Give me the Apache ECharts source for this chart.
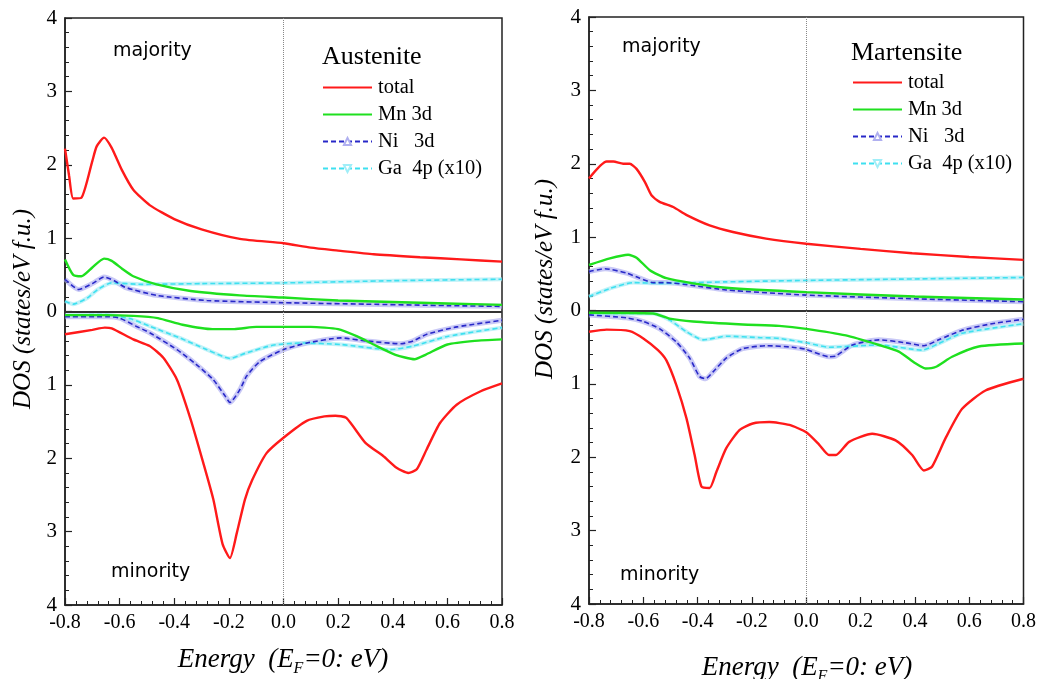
<!DOCTYPE html>
<html>
<head>
<meta charset="utf-8">
<script src="https://cdn.jsdelivr.net/npm/echarts@6/dist/echarts.min.js"></script>
<style>
html,body{margin:0;padding:0;background:#fff;}
#chart{width:1039px;height:679px;}
</style>
</head>
<body>
<div id="chart"></div>
<script>
// ---------- DATA ----------
var panelTitles = ['Austenite', 'Martensite'];
var seriesNames = ['total', 'Mn 3d', 'Ni   3d', 'Ga  4p (x10)'];
var xTicks = [-0.8, -0.6, -0.4, -0.2, 0.0, 0.2, 0.4, 0.6, 0.8];
var yTicks = [-4, -3, -2, -1, 0, 1, 2, 3, 4];

// Austenite, majority (positive) and minority (negative) spin
var austTotalUp = [[-0.80,2.22],[-0.785,1.85],[-0.77,1.54],[-0.74,1.55],[-0.70,2.05],[-0.684,2.25],[-0.657,2.37],[-0.629,2.23],[-0.592,1.93],[-0.55,1.66],[-0.49,1.45],[-0.40,1.26],[-0.30,1.12],[-0.16,0.99],[0.0,0.93],[0.10,0.87],[0.20,0.83],[0.33,0.78],[0.50,0.74],[0.65,0.71],[0.80,0.68]];
var austMnUp = [[-0.80,0.71],[-0.77,0.50],[-0.74,0.48],[-0.70,0.60],[-0.657,0.72],[-0.629,0.69],[-0.59,0.58],[-0.55,0.48],[-0.465,0.37],[-0.34,0.28],[-0.16,0.22],[0.0,0.19],[0.2,0.15],[0.4,0.13],[0.6,0.11],[0.8,0.09]];
var austNiUp = [[-0.80,0.44],[-0.75,0.30],[-0.70,0.38],[-0.657,0.47],[-0.62,0.42],[-0.58,0.33],[-0.465,0.22],[-0.28,0.15],[0.0,0.12],[0.3,0.10],[0.6,0.08],[0.8,0.07]];
var austGaUp = [[-0.80,0.14],[-0.77,0.10],[-0.72,0.18],[-0.68,0.30],[-0.63,0.39],[-0.52,0.37],[-0.3,0.38],[0.0,0.39],[0.4,0.42],[0.8,0.44]];
var austTotalDn = [[-0.80,-0.31],[-0.70,-0.25],[-0.654,-0.22],[-0.629,-0.23],[-0.55,-0.38],[-0.49,-0.47],[-0.44,-0.63],[-0.39,-0.93],[-0.34,-1.47],[-0.294,-2.06],[-0.257,-2.56],[-0.223,-3.17],[-0.196,-3.36],[-0.171,-3.02],[-0.141,-2.56],[-0.115,-2.30],[-0.062,-1.93],[0.0,-1.72],[0.085,-1.49],[0.15,-1.43],[0.19,-1.42],[0.23,-1.45],[0.30,-1.79],[0.365,-1.97],[0.414,-2.13],[0.457,-2.20],[0.488,-2.15],[0.524,-1.88],[0.573,-1.52],[0.634,-1.27],[0.72,-1.09],[0.80,-0.98]];
var austMnDn = [[-0.80,-0.05],[-0.65,-0.05],[-0.55,-0.06],[-0.46,-0.09],[-0.37,-0.18],[-0.26,-0.24],[-0.18,-0.24],[-0.10,-0.21],[0.0,-0.21],[0.10,-0.21],[0.20,-0.24],[0.27,-0.34],[0.33,-0.45],[0.41,-0.59],[0.48,-0.65],[0.52,-0.59],[0.60,-0.45],[0.70,-0.40],[0.80,-0.38]];
var austNiDn = [[-0.80,-0.07],[-0.65,-0.07],[-0.60,-0.09],[-0.54,-0.20],[-0.49,-0.29],[-0.39,-0.52],[-0.32,-0.72],[-0.257,-0.93],[-0.214,-1.15],[-0.196,-1.24],[-0.159,-1.06],[-0.135,-0.88],[-0.086,-0.68],[0.0,-0.52],[0.085,-0.43],[0.21,-0.36],[0.30,-0.40],[0.43,-0.44],[0.475,-0.40],[0.525,-0.31],[0.635,-0.21],[0.80,-0.12]];
var austGaDn = [[-0.80,-0.05],[-0.65,-0.04],[-0.56,-0.10],[-0.49,-0.20],[-0.38,-0.36],[-0.28,-0.52],[-0.196,-0.64],[-0.14,-0.57],[-0.04,-0.46],[0.06,-0.43],[0.21,-0.45],[0.39,-0.52],[0.475,-0.47],[0.60,-0.34],[0.80,-0.22]];

// Martensite
var martTotalUp = [[-0.80,1.80],[-0.735,2.03],[-0.71,2.03],[-0.674,2.00],[-0.65,2.00],[-0.625,1.93],[-0.594,1.75],[-0.57,1.57],[-0.54,1.48],[-0.49,1.41],[-0.44,1.30],[-0.356,1.16],[-0.27,1.07],[-0.148,0.98],[0.0,0.91],[0.2,0.84],[0.39,0.78],[0.6,0.73],[0.8,0.69]];
var martMnUp = [[-0.80,0.62],[-0.723,0.71],[-0.656,0.76],[-0.625,0.72],[-0.576,0.55],[-0.515,0.44],[-0.417,0.37],[-0.295,0.31],[0.0,0.25],[0.4,0.19],[0.8,0.15]];
var martNiUp = [[-0.80,0.53],[-0.741,0.57],[-0.662,0.51],[-0.613,0.44],[-0.564,0.38],[-0.515,0.38],[-0.417,0.34],[-0.295,0.28],[0.0,0.21],[0.4,0.16],[0.8,0.12]];
var martGaUp = [[-0.80,0.19],[-0.723,0.30],[-0.637,0.38],[-0.54,0.37],[-0.3,0.39],[0.0,0.41],[0.4,0.43],[0.8,0.45]];
var martTotalDn = [[-0.80,-0.29],[-0.735,-0.26],[-0.65,-0.28],[-0.60,-0.38],[-0.546,-0.54],[-0.515,-0.68],[-0.478,-1.02],[-0.441,-1.47],[-0.411,-1.97],[-0.386,-2.40],[-0.356,-2.42],[-0.331,-2.20],[-0.295,-1.88],[-0.246,-1.63],[-0.197,-1.54],[-0.136,-1.52],[-0.062,-1.56],[0.0,-1.66],[0.048,-1.83],[0.084,-1.97],[0.109,-1.97],[0.158,-1.79],[0.243,-1.68],[0.329,-1.77],[0.39,-1.97],[0.433,-2.18],[0.463,-2.13],[0.513,-1.74],[0.574,-1.34],[0.66,-1.09],[0.80,-0.93]];
var martMnDn = [[-0.80,-0.03],[-0.564,-0.04],[-0.503,-0.11],[-0.417,-0.15],[-0.234,-0.19],[-0.10,-0.21],[0.0,-0.25],[0.146,-0.34],[0.268,-0.47],[0.341,-0.56],[0.402,-0.72],[0.439,-0.79],[0.476,-0.77],[0.537,-0.63],[0.635,-0.49],[0.80,-0.45]];
var martNiDn = [[-0.80,-0.06],[-0.662,-0.10],[-0.60,-0.15],[-0.539,-0.25],[-0.478,-0.43],[-0.429,-0.65],[-0.393,-0.90],[-0.37,-0.93],[-0.344,-0.84],[-0.295,-0.65],[-0.234,-0.52],[-0.148,-0.48],[-0.05,-0.50],[0.0,-0.53],[0.084,-0.63],[0.109,-0.62],[0.17,-0.47],[0.268,-0.40],[0.366,-0.44],[0.433,-0.48],[0.488,-0.40],[0.574,-0.27],[0.684,-0.18],[0.80,-0.12]];
var martGaDn = [[-0.80,-0.04],[-0.564,-0.04],[-0.503,-0.13],[-0.441,-0.29],[-0.38,-0.40],[-0.356,-0.39],[-0.295,-0.35],[-0.172,-0.37],[-0.10,-0.38],[0.0,-0.44],[0.084,-0.50],[0.268,-0.47],[0.427,-0.54],[0.488,-0.45],[0.574,-0.31],[0.80,-0.18]];

// ---------- STYLE / BUILD ----------
var SERIF = "'Liberation Serif','Times New Roman',serif";
var SANS = "'DejaVu Sans',Verdana,sans-serif";
var C_TOTAL = '#ff1a1a', C_MN = '#1fe01f', C_NI = '#2828c8', C_GA = '#3ee0f0';
var HALO_NI = 'rgba(165,165,240,0.6)', HALO_GA = 'rgba(160,235,245,0.65)';

var panels = [
  {total:[austTotalUp,austTotalDn], mn:[austMnUp,austMnDn], ni:[austNiUp,austNiDn], ga:[austGaUp,austGaDn]},
  {total:[martTotalUp,martTotalDn], mn:[martMnUp,martMnDn], ni:[martNiUp,martNiDn], ga:[martGaUp,martGaDn]}
];

var grids = [
  {left:65, top:18, width:437, height:587, show:true, borderColor:'#222', borderWidth:1.5, backgroundColor:'transparent'},
  {left:589, top:17, width:436, height:587, show:true, borderColor:'#222', borderWidth:1.5, backgroundColor:'transparent'}
];

function xAxisCfg(i){
  return {
    type:'value', gridIndex:i, min:xTicks[0], max:xTicks[xTicks.length-1], interval:0.2,
    axisLine:{show:true, onZero:false, lineStyle:{color:'#222', width:1.5}},
    axisTick:{show:true, inside:true, length:7, lineStyle:{color:'#222', width:1.2}},
    minorTick:{show:true, splitNumber:5, length:4, lineStyle:{color:'#222', width:1}},
    splitLine:{show:false},
    axisLabel:{color:'#000', fontFamily:SERIF, fontSize:20, margin:8,
      formatter:function(v){return v.toFixed(1);}}
  };
}
function yAxisCfg(i){
  return {
    type:'value', gridIndex:i, min:yTicks[0], max:yTicks[yTicks.length-1], interval:1,
    axisLine:{show:true, onZero:false, lineStyle:{color:'#222', width:1.5}},
    axisTick:{show:true, inside:true, length:7, lineStyle:{color:'#222', width:1.2}},
    minorTick:{show:true, splitNumber:5, length:4, lineStyle:{color:'#222', width:1}},
    splitLine:{show:false},
    axisLabel:{color:'#000', fontFamily:SERIF, fontSize:21, margin:8,
      formatter:function(v){return String(Math.abs(v));}}
  };
}

var series = [];
function line(name, data, gi, color, width, dashed, z, extra){
  var s = {
    name:name, type:'line', xAxisIndex:gi, yAxisIndex:gi, data:data,
    smooth:0.2, symbol:'none', showSymbol:false, z:z, silent:true,
    lineStyle:{color:color, width:width, type:dashed ? [5,3] : 'solid'},
    itemStyle:{color:color}
  };
  if (extra) for (var k in extra) s[k] = extra[k];
  series.push(s);
}
panels.forEach(function(p, gi){
  // reference lines (zero line and Fermi level)
  series.push({
    name:'_ref'+gi, type:'line', xAxisIndex:gi, yAxisIndex:gi, data:[], silent:true, z:1,
    markLine:{silent:true, symbol:'none', animation:false, label:{show:false},
      data:[
        {yAxis:0, lineStyle:{color:'#333', width:2, type:'solid'}},
        {xAxis:0, lineStyle:{color:'#888', width:1, type:'dotted'}}
      ]}
  });
  // halos for projected curves
  [0,1].forEach(function(k){
    line('_haloNi'+gi+k, p.ni[k], gi, HALO_NI, 5, false, 2);
    line('_haloGa'+gi+k, p.ga[k], gi, HALO_GA, 4, false, 2);
  });
  [0,1].forEach(function(k){
    line(seriesNames[3], p.ga[k], gi, C_GA, 1.6, true, 3, {symbol:'emptyTriangle', symbolRotate:180, symbolSize:8});
    line(seriesNames[2], p.ni[k], gi, C_NI, 1.6, true, 4, {symbol:'emptyTriangle', symbolSize:8});
    line(seriesNames[1], p.mn[k], gi, C_MN, 2.4, false, 5);
    line(seriesNames[0], p.total[k], gi, C_TOTAL, 2.4, false, 6);
  });
});

function legendCfg(left, top){
  return {
    left:left, top:top, orient:'vertical', itemWidth:49, itemHeight:9, itemGap:6, padding:0,
    data:[
      {name:seriesNames[0], itemStyle:{opacity:0}},
      {name:seriesNames[1], itemStyle:{opacity:0}},
      {name:seriesNames[2], itemStyle:{color:'#b0b0f0'}},
      {name:seriesNames[3], itemStyle:{color:'#a0eef8'}}
    ],
    selectedMode:false,
    textStyle:{color:'#000', fontFamily:SERIF, fontSize:20.5, padding:[0,0,0,1]}
  };
}

function gtext(x, y, text, font, extra){
  var o = {type:'text', x:x, y:y, silent:true,
    style:{text:text, font:font, fill:'#000', textAlign:'left', textVerticalAlign:'middle'}};
  if (extra) for (var k in extra) o[k] = extra[k];
  return o;
}
function yName(cx, cy){
  return {type:'text', x:cx, y:cy, rotation:Math.PI/2, silent:true,
    style:{text:'DOS (states/eV f.u.)', font:'italic 25px ' + SERIF, fill:'#000', textAlign:'center', textVerticalAlign:'middle'}};
}
function xName(cx, cy){
  return {type:'text', x:cx, y:cy, silent:true,
    style:{
      text:'{a|Energy  (E}{s|F}{a|=0: eV)}',
      textAlign:'center', textVerticalAlign:'middle',
      rich:{
        a:{fontFamily:SERIF, fontStyle:'italic', fontSize:27, fill:'#000', lineHeight:34, verticalAlign:'middle'},
        s:{fontFamily:SERIF, fontStyle:'italic', fontSize:16, fill:'#000', lineHeight:34, verticalAlign:'bottom'}
      }
    }};
}

var option = {
  backgroundColor:'#fff',
  animation:false,
  grid:grids,
  xAxis:[xAxisCfg(0), xAxisCfg(1)],
  yAxis:[yAxisCfg(0), yAxisCfg(1)],
  legend:[legendCfg(322, 77), legendCfg(852, 72)],
  series:series,
  graphic:[
    gtext(113, 51, 'majority', '19px ' + SANS),
    gtext(111, 572, 'minority', '19px ' + SANS),
    gtext(622, 47, 'majority', '19px ' + SANS),
    gtext(620, 575, 'minority', '19px ' + SANS),
    gtext(322, 57, panelTitles[0], '26px ' + SERIF),
    gtext(851, 53, panelTitles[1], '26px ' + SERIF),
    yName(23, 309),
    yName(545, 279),
    xName(283, 660),
    xName(807, 668)
  ]
};

var chart = echarts.init(document.getElementById('chart'), null, {renderer:'canvas'});
chart.setOption(option);
</script>
</body>
</html>
